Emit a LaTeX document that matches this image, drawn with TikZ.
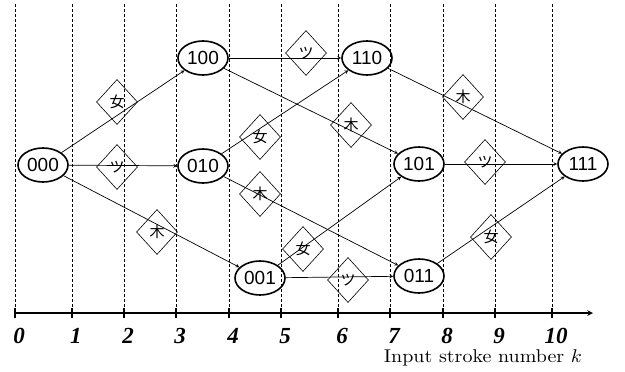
\documentclass[tikz,border=0pt]{standalone}
\usepackage{fontspec}
\newfontfamily\cjkfont{Noto Sans CJK JP}
\newfontfamily\arialfont{Liberation Sans}
\newfontfamily\timesfont{Liberation Serif}
\usetikzlibrary{positioning}
\usetikzlibrary{shapes.geometric}
\pgfdeclarelayer{nodelayer}
\pgfdeclarelayer{edgelayer}
\pgfsetlayers{nodelayer,edgelayer,main}
\tikzset{
    state/.style = {ellipse, draw, line width=1.6pt, minimum width=50pt, minimum height=34pt, inner sep=0pt, font=\arialfont\fontsize{19}{19}\selectfont},
    stroke/.style = {diamond, draw, line width=0.6pt, minimum width=41pt, minimum height=45pt, inner sep=0pt, font=\cjkfont\fontsize{15}{15}\selectfont},
    arc/.style = {-stealth, line width=0.7pt},
    grid/.style = {dash pattern=on 3pt off 2pt, line width=0.9pt},
    ticklabel/.style = {font=\timesfont\bfseries\itshape\fontsize{23}{23}\selectfont}
}

\begin{document}
\begin{tikzpicture}[x=1pt, y=-1pt]
    \useasboundingbox (0,0) rectangle (625,372);
    % time grid and axis
    \foreach \x/\k in {15/0, 72/1, 124/2, 176/3, 229/4, 281/5, 338/6, 390/7, 443/8, 495/9, 552/10} {
        \draw [style=grid] (\x,4) -- (\x,313);
        \draw [line width=1.5pt] (\x,308) -- (\x,318);
        \node [style=ticklabel] (k\k) at (\x+4,336) {\k};
    }
    \coordinate (a0) at (15,313);
    \coordinate (a1) at (593,313);
    \draw [line width=1.5pt, -stealth] (a0) to (a1);
    \node [anchor=base east, xscale=2.0, yscale=1.85] (label) at (589,362) {Input stroke number $k$};
    \begin{pgfonlayer}{nodelayer}
        \node [style=state] (000) at (43, 165) {000};
        \node [style=state] (100) at (203, 58) {100};
        \node [style=state] (010) at (203, 166) {010};
        \node [style=state] (001) at (260, 278) {001};
        \node [style=state] (110) at (367, 58) {110};
        \node [style=state] (101) at (419, 164) {101};
        \node [style=state] (011) at (419, 276) {011};
        \node [style=state] (111) at (583, 164) {111};
        \node [style=stroke] (1) at (117, 102) {女};
        \node [style=stroke] (2) at (117, 167) {ツ};
        \node [style=stroke] (3) at (157, 232) {木};
        \node [style=stroke] (4) at (306, 53) {ツ};
        \node [style=stroke] (5) at (260, 137) {女};
        \node [style=stroke] (6) at (260, 194) {木};
        \node [style=stroke] (7) at (351, 125) {木};
        \node [style=stroke] (8) at (303, 249) {女};
        \node [style=stroke] (9) at (348, 280) {ツ};
        \node [style=stroke] (10) at (463, 97) {木};
        \node [style=stroke] (11) at (485, 162) {ツ};
        \node [style=stroke] (12) at (491, 237) {女};
    \end{pgfonlayer}
    \begin{pgfonlayer}{edgelayer}
        \draw [style=arc] (000) to (100);
        \draw [style=arc] (000) to (010);
        \draw [style=arc] (000) to (001);
        \draw [style=arc] (100) to (110);
        \draw [style=arc] (100) to (101);
        \draw [style=arc] (010) to (110);
        \draw [style=arc] (010) to (011);
        \draw [style=arc] (001) to (101);
        \draw [style=arc] (001) to (011);
        \draw [style=arc] (110) to (111);
        \draw [style=arc] (101) to (111);
        \draw [style=arc] (011) to (111);
    \end{pgfonlayer}
\end{tikzpicture}
\end{document}
